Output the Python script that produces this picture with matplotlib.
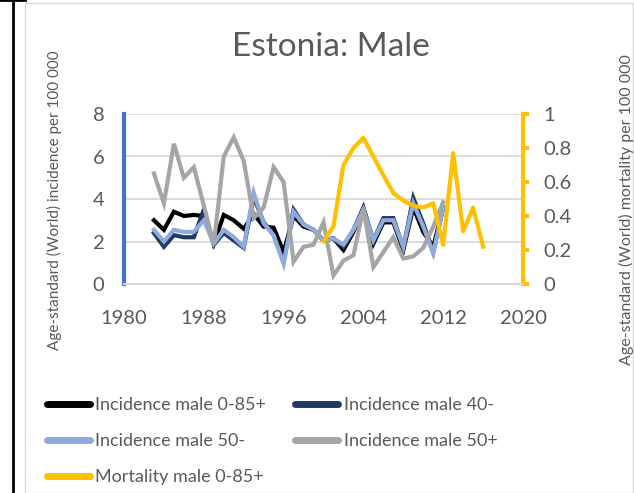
import numpy as np
import matplotlib
matplotlib.use('Agg')
import matplotlib.pyplot as plt
from matplotlib.lines import Line2D
from matplotlib.patches import Rectangle

plt.rcParams['font.family'] = ['Lato', 'DejaVu Sans']

#------------------------------------------------------------------------------------------------ data

years_inc = np.arange(1983, 2013)
years_mort = np.arange(2000, 2017)

inc_male_all = [3.0, 2.55, 3.4, 3.2, 3.25, 3.2, 1.9, 3.25, 3.0, 2.6,
                3.3, 2.7, 2.65, 1.5, 3.2, 2.7, 2.55, 2.05, 2.15, 1.6,
                2.45, 3.55, 1.9, 2.9, 2.9, 1.6, 3.6, 2.45, 1.75, 3.6]
inc_male_40m = [2.4, 1.75, 2.3, 2.2, 2.2, 3.5, 1.85, 2.4, 2.05, 1.7,
                4.1, 2.9, 2.3, 1.05, 3.5, 2.8, 2.55, 2.05, 2.15, 1.75,
                2.55, 3.6, 2.05, 3.1, 3.1, 1.7, 4.05, 2.85, 1.5, 3.6]
inc_male_50m = [2.55, 2.0, 2.55, 2.45, 2.45, 3.0, 1.9, 2.55, 2.2, 1.75,
                4.3, 2.85, 2.3, 0.95, 3.4, 2.8, 2.55, 2.05, 2.15, 1.85,
                2.55, 3.5, 2.05, 3.0, 3.0, 1.75, 3.8, 2.7, 1.45, 3.6]
inc_male_50p = [5.2, 3.8, 6.6, 5.0, 5.5, 3.7, 1.85, 6.0, 6.9, 5.8,
                3.1, 3.6, 5.5, 4.8, 1.05, 1.75, 1.85, 2.9, 0.4, 1.1,
                1.35, 3.55, 0.8, 1.5, 2.2, 1.2, 1.3, 1.7, 2.7, 3.85]
mort_male_all = [0.25, 0.34, 0.70, 0.80, 0.86, 0.75, 0.64, 0.535, 0.49, 0.46,
                 0.45, 0.475, 0.23, 0.77, 0.31, 0.45, 0.22]

labels = ['Incidence male 0-85+', 'Incidence male 40-', 'Incidence male 50-',
          'Incidence male 50+', 'Mortality male 0-85+']
colors = ['#000000', '#203864', '#8FAADC', '#A5A5A5', '#FFC000']

#------------------------------------------------------------------------------------------------ figure

W, H = 634, 493
fig = plt.figure(figsize=(W / 100, H / 100), dpi=100)

# chart border and the stray black lines at the left
fig.add_artist(Rectangle((25 / W, 0), (W - 26) / W, 1 - 3 / H, transform=fig.transFigure,
                         fill=False, edgecolor='#D9D9D9', lw=1))
fig.add_artist(Line2D([13 / W, 13 / W], [0, 1], transform=fig.transFigure, color='k', lw=2))
fig.add_artist(Line2D([0, 25 / W], [1, 1], transform=fig.transFigure, color='k', lw=2))

ax = fig.add_axes([124 / W, 1 - 284 / H, (523 - 124) / W, 170 / H])
ax2 = ax.twinx()

series = [inc_male_all, inc_male_40m, inc_male_50m, inc_male_50p]
handles = []
for s, lab, c in zip(series, labels[:4], colors[:4]):
    h, = ax.plot(years_inc, s, color=c, lw=3, label=lab, solid_joinstyle='miter')
    handles.append(h)
h, = ax2.plot(years_mort, mort_male_all, color=colors[4], lw=3, label=labels[4])
handles.append(h)

ax.set_xlim(1980, 2020)
ax.set_xticks(np.arange(1980, 2021, 8))
ax.set_ylim(0, 8)
ax.set_yticks(np.arange(0, 9, 2))
ax2.set_ylim(0, 1)
ax2.set_yticks(np.arange(0, 1.01, 0.2))
ax2.set_yticklabels(['0', '0.2', '0.4', '0.6', '0.8', '1'])

ax.grid(axis='y', color='#D9D9D9', lw=1.3)
ax.set_axisbelow(True)
for a in (ax, ax2):
    a.spines['top'].set_visible(False)
    a.spines['bottom'].set_color('#D9D9D9')
    a.spines['bottom'].set_linewidth(1.3)
ax.spines['right'].set_visible(False)
ax2.spines['left'].set_visible(False)
ax.spines['left'].set_color('#4472C4')
ax.spines['left'].set_linewidth(3)
ax2.spines['right'].set_color('#FFC000')
ax2.spines['right'].set_linewidth(3)

ax.tick_params(axis='y', length=0, pad=14, labelsize=14.5, labelcolor='#595959')
ax.tick_params(axis='x', length=0, pad=19, labelsize=14.5, labelcolor='#595959')
ax2.tick_params(axis='y', length=4, width=3, color='#FFC000', pad=11, labelsize=14.5,
                labelcolor='#595959')

fig.text(331 / W, 1 - 47 / H, 'Estonia: Male', ha='center', va='center',
         fontsize=24, color='#595959')
fig.text(54 / W, 1 - 200 / H, 'Age-standard (World) incidence per 100 000', rotation=90,
         ha='center', va='center', fontsize=11, color='#595959')
fig.text(626 / W, 1 - 210 / H, 'Age-standard (World) mortality per 100 000', rotation=90,
         ha='center', va='center', fontsize=11.5, color='#595959')

order = [0, 2, 4, 1, 3]
leg = fig.legend([handles[i] for i in order], [labels[i] for i in order], ncol=2,
                 loc='upper left', bbox_to_anchor=(47 / W, 1 - 397 / H), frameon=False,
                 fontsize=13, handlelength=2.4, handletextpad=0.28, columnspacing=1.6,
                 labelspacing=1.12, borderaxespad=0, borderpad=0)
for t in leg.get_texts():
    t.set_color('#595959')
for l in leg.get_lines():
    l.set_linewidth(5)
    l.set_solid_capstyle('round')

fig.savefig('out.png', dpi=100)
